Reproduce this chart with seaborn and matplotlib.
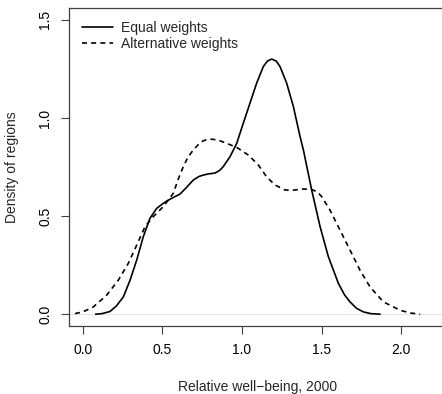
import seaborn as sns
import matplotlib.pyplot as plt
import pandas as pd

sns.set_style("ticks")
plt.rcParams['font.family'] = ['Liberation Sans', 'DejaVu Sans']

# density of regions
equal_x = [0.08, 0.12, 0.17, 0.21, 0.254, 0.296, 0.338, 0.379, 0.421, 0.463, 0.5, 0.526,
           0.568, 0.61, 0.65, 0.694, 0.73, 0.757, 0.79, 0.83, 0.86, 0.882, 0.925, 0.967,
           1.008, 1.05, 1.092, 1.134, 1.16, 1.187, 1.215, 1.239, 1.281, 1.323, 1.365,
           1.386, 1.438, 1.491, 1.543, 1.606, 1.645, 1.679, 1.72, 1.763, 1.81, 1.868]
equal_y = [0.0, 0.003, 0.014, 0.042, 0.088, 0.173, 0.276, 0.394, 0.488, 0.539, 0.562, 0.576,
           0.595, 0.612, 0.645, 0.684, 0.702, 0.709, 0.715, 0.719, 0.733, 0.752, 0.803, 0.871,
           0.973, 1.075, 1.177, 1.262, 1.29, 1.30, 1.29, 1.262, 1.177, 1.058, 0.905,
           0.837, 0.633, 0.446, 0.293, 0.157, 0.098, 0.063, 0.03, 0.012, 0.003, 0.0]

alt_x = [-0.05, 0.0, 0.065, 0.149, 0.222, 0.285, 0.338, 0.39, 0.442, 0.505, 0.568, 0.6,
         0.631, 0.66, 0.694, 0.725, 0.757, 0.79, 0.82, 0.86, 0.893, 0.967, 1.04, 1.103,
         1.155, 1.208, 1.27, 1.323, 1.38, 1.438, 1.475, 1.501, 1.553, 1.616, 1.679, 1.742,
         1.805, 1.889, 1.994, 2.06, 2.12]
alt_y = [0.003, 0.012, 0.037, 0.097, 0.173, 0.259, 0.352, 0.446, 0.497, 0.548, 0.616, 0.69,
         0.752, 0.80, 0.837, 0.864, 0.884, 0.892, 0.891, 0.884, 0.874, 0.85, 0.811, 0.760,
         0.70, 0.658, 0.633, 0.632, 0.638, 0.636, 0.622, 0.599, 0.531, 0.429, 0.327, 0.224,
         0.139, 0.063, 0.020, 0.006, 0.0]

labels = ["Equal weights", "Alternative weights"]

fig = plt.figure(figsize=(4.42, 3.94), dpi=100)
ax = fig.add_axes([0.156, 0.1726, 0.855, 0.807])

ax.axhline(0, color='0.9', lw=0.8, zorder=0)
sns.lineplot(x=equal_x, y=equal_y, ax=ax, color='black', lw=1.2, sort=False,
             estimator=None, label=labels[0])
sns.lineplot(x=alt_x, y=alt_y, ax=ax, color='black', lw=1.2, sort=False,
             estimator=None, label=labels[1])
ax.lines[-1].set_dashes((3, 2.5))

ax.set_xlim(-0.088, 2.288)
ax.set_ylim(-0.06, 1.56)
ax.set_xticks([0.0, 0.5, 1.0, 1.5, 2.0])
ax.set_yticks([0.0, 0.5, 1.0, 1.5])
ax.set_xticklabels(['0.0', '0.5', '1.0', '1.5', '2.0'])
ax.set_yticklabels(['0.0', '0.5', '1.0', '1.5'], rotation=90, va='center')
ax.tick_params(length=6, width=0.8, labelsize=10, pad=6, colors='0.25', labelcolor='black')
for s in ax.spines.values():
    s.set_linewidth(0.9)
    s.set_color('0.25')

ax.set_xlabel("Relative well\u2212being, 2000", fontsize=10, labelpad=17)
ax.set_ylabel("Density of regions", fontsize=10, labelpad=14)

leg = ax.legend(loc='upper left', frameon=False, fontsize=10, handlelength=2.2,
                borderaxespad=0.55, labelspacing=0.15, handletextpad=0.6)
leg.get_lines()[1].set_dashes((3, 2.5))

fig.savefig("out.png", dpi=100)
